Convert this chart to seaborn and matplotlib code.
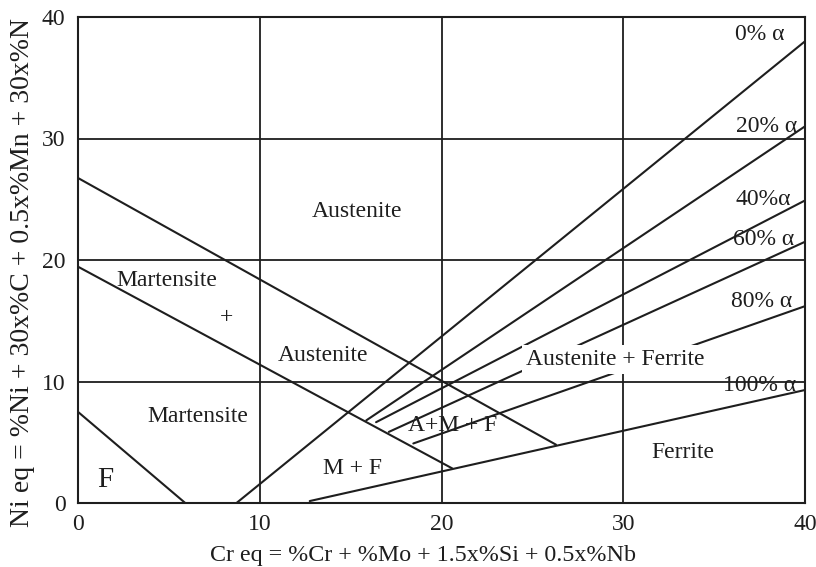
import numpy as np
import pandas as pd
import matplotlib
matplotlib.use("Agg")
import matplotlib.pyplot as plt
import seaborn as sns

# ---- data: boundary lines of the Schaeffler diagram (Cr eq, Ni eq) ----
ferrite_x = [0.0, 5.9]
ferrite_y = [7.5, 0.0]
martensite_x = [0.0, 20.6]
martensite_y = [19.45, 2.84]
austenite_x = [0.0, 26.3]
austenite_y = [26.75, 4.8]
alpha0_x = [8.72, 40.0]
alpha0_y = [0.0, 38.0]
alpha20_x = [15.86, 40.0]
alpha20_y = [6.8, 31.0]
alpha40_x = [16.4, 40.0]
alpha40_y = [6.65, 24.9]
alpha60_x = [17.1, 40.0]
alpha60_y = [5.85, 21.5]
alpha80_x = [18.45, 40.0]
alpha80_y = [4.9, 16.2]
alpha100_x = [12.75, 40.0]
alpha100_y = [0.16, 9.3]

x_ticks = [0, 10, 20, 30, 40]
y_ticks = [0, 10, 20, 30, 40]
minor_ticks = [5, 15, 25, 35]

region_labels = ["Austenite", "Martensite", "+", "Austenite", "Martensite", "F",
                 "M + F", "A+M + F", "Ferrite"]
region_x = [15.33, 4.9, 8.17, 13.5, 6.6, 1.48, 15.08, 20.6, 33.26]
region_y = [23.97, 18.35, 15.3, 12.1, 7.1, 1.93, 2.83, 6.4, 4.12]

alpha_labels = ["0% α", "20% α", "40%α", "60% α", "80% α", "100% α"]
alpha_label_x = [37.5, 37.9, 37.7, 37.7, 37.6, 37.5]
alpha_label_y = [38.55, 31.0, 24.95, 21.65, 16.57, 9.7]

af_label = "Austenite + Ferrite"
af_x, af_y = 29.55, 11.8

lines = {
    "ferrite": (ferrite_x, ferrite_y),
    "martensite": (martensite_x, martensite_y),
    "austenite": (austenite_x, austenite_y),
    "a0": (alpha0_x, alpha0_y),
    "a20": (alpha20_x, alpha20_y),
    "a40": (alpha40_x, alpha40_y),
    "a60": (alpha60_x, alpha60_y),
    "a80": (alpha80_x, alpha80_y),
    "a100": (alpha100_x, alpha100_y),
}
rows = []
for name, (xs, ys) in lines.items():
    for i, (xv, yv) in enumerate(zip(xs, ys)):
        rows.append({"line": name, "order": i, "cr": xv, "ni": yv})
df = pd.DataFrame(rows)

sns.set_theme(style="white")
plt.rcParams["font.family"] = ["Liberation Serif", "DejaVu Serif"]

ink = "#1e1e1e"
fig = plt.figure(figsize=(8.16, 5.67), dpi=100)
ax = fig.add_axes([78 / 816, 1 - 503 / 567, 727 / 816, 486 / 567])

sns.lineplot(data=df, x="cr", y="ni", units="line", estimator=None, sort=False,
             color=ink, linewidth=1.5, ax=ax, zorder=2)

ax.set_xlim(0, 40)
ax.set_ylim(0, 40)
ax.set_xticks(x_ticks)
ax.set_yticks(y_ticks)
ax.set_xticks(minor_ticks, minor=True)
ax.set_yticks(minor_ticks, minor=True)
ax.set_xticklabels([str(v) for v in x_ticks])
ax.set_yticklabels([str(v) for v in y_ticks])
ax.grid(True, which="major", color=ink, linewidth=1.3)
ax.set_axisbelow(True)
ax.tick_params(which="major", length=0, labelsize=17, colors=ink)
ax.tick_params(axis="x", which="major", pad=8)
ax.tick_params(axis="y", which="major", pad=9)
ax.tick_params(which="minor", direction="in", length=5, width=1.2, color=ink)
for s in ax.spines.values():
    s.set_color(ink)
    s.set_linewidth(1.5)

ax.set_xlabel("Cr eq = %Cr + %Mo + 1.5x%Si + 0.5x%Nb", fontsize=17.3, color=ink)
ax.set_ylabel("Ni eq = %Ni + 30x%C + 0.5x%Mn + 30x%N", fontsize=20, color=ink)
ax.xaxis.set_label_coords(0.475, -0.107)
ax.xaxis.label.set_va("center")
ax.yaxis.set_label_coords(-0.076, 0.475)
ax.yaxis.label.set_va("center")

for lab, xv, yv in zip(region_labels, region_x, region_y):
    fs = 21 if lab == "F" else 17
    ax.text(xv, yv, lab, fontsize=fs, ha="center", va="center", color=ink, zorder=5)

for lab, xv, yv in zip(alpha_labels, alpha_label_x, alpha_label_y):
    ax.text(xv, yv, lab, fontsize=17, ha="center", va="center", color=ink, zorder=5)

ax.text(af_x, af_y, af_label, fontsize=17, ha="center", va="center", color=ink, zorder=6,
        bbox=dict(boxstyle="square,pad=0.17", facecolor="white", edgecolor="none"))

fig.savefig("out.png", dpi=100)
